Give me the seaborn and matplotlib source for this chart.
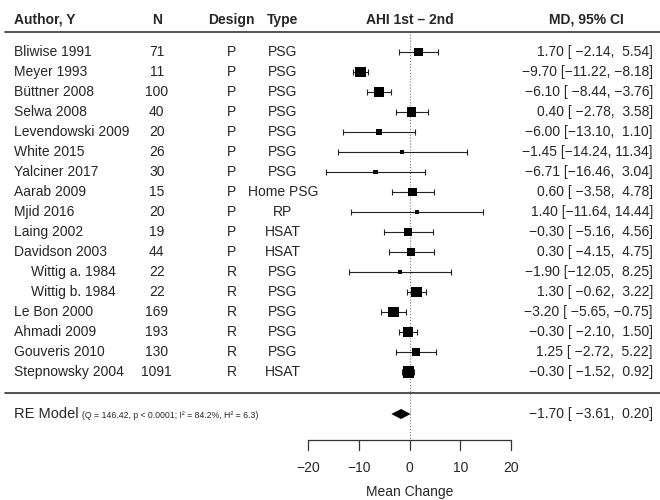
import numpy as np
import pandas as pd
import matplotlib
matplotlib.use("Agg")
import matplotlib.pyplot as plt
import seaborn as sns

# Study data (forest plot of AHI change, 1st vs 2nd night)
authors = ['Bliwise 1991', 'Meyer 1993', 'Büttner 2008', 'Selwa 2008', 'Levendowski 2009',
           'White 2015', 'Yalciner 2017', 'Aarab 2009', 'Mjid 2016', 'Laing 2002',
           'Davidson 2003', 'Wittig a. 1984', 'Wittig b. 1984', 'Le Bon 2000',
           'Ahmadi 2009', 'Gouveris 2010', 'Stepnowsky 2004']
n_subj = [71, 11, 100, 40, 20, 26, 30, 15, 20, 19, 44, 22, 22, 169, 193, 130, 1091]
design = ['P'] * 11 + ['R'] * 6
stype = ['PSG', 'PSG', 'PSG', 'PSG', 'PSG', 'PSG', 'PSG', 'Home PSG', 'RP', 'HSAT',
         'HSAT', 'PSG', 'PSG', 'PSG', 'PSG', 'PSG', 'HSAT']
md = [1.70, -9.70, -6.10, 0.40, -6.00, -1.45, -6.71, 0.60, 1.40, -0.30, 0.30,
      -1.90, 1.30, -3.20, -0.30, 1.25, -0.30]
ci_lo = [-2.14, -11.22, -8.44, -2.78, -13.10, -14.24, -16.46, -3.58, -11.64, -5.16,
         -4.15, -12.05, -0.62, -5.65, -2.10, -2.72, -1.52]
ci_hi = [5.54, -8.18, -3.76, 3.58, 1.10, 11.34, 3.04, 4.78, 14.44, 4.56, 4.75,
         8.25, 3.22, -0.75, 1.50, 5.22, 0.92]
indented = ['Wittig a. 1984', 'Wittig b. 1984']

# Random-effects summary
re_est, re_lo, re_hi = -1.70, -3.61, 0.20
re_text = '(Q = 146.42, p < 0.0001; I² = 84.2%, H² = 6.3)'
i2 = 0.842

xticks = [-20, -10, 0, 10, 20]

df = pd.DataFrame({'author': authors, 'n': n_subj, 'design': design, 'type': stype,
                   'md': md, 'lo': ci_lo, 'hi': ci_hi})
df['row'] = np.arange(1, len(df) + 1)

# RE weights -> square sizes (metafor style)
vi = ((df['hi'] - df['lo']) / 3.92) ** 2
w0 = 1 / vi
k = len(df)
s2 = (k - 1) * w0.sum() / (w0.sum() ** 2 - (w0 ** 2).sum())
tau2 = i2 / (1 - i2) * s2
w = 1 / (vi + tau2)
psize = 0.5 + (w - w.min()) / (w.max() - w.min())
df['area'] = (psize * 5.3) ** 2

sns.set_theme(style='white')
plt.rcParams['font.family'] = ['Liberation Sans', 'DejaVu Sans']

fig = plt.figure(figsize=(6.6, 5), dpi=100)
ax = fig.add_axes([0, 0, 1, 1])

fs = 10
x_author, x_n, x_design, x_type, x_ci, x_mdhead = -78.1, -49.9, -35.1, -25.0, 48.0, 34.8

# header
hy = -0.6
ax.text(x_author, hy, 'Author, Y', ha='left', va='center', fontsize=fs, fontweight='bold')
ax.text(x_n, hy, 'N', ha='center', va='center', fontsize=fs, fontweight='bold')
ax.text(x_design, hy, 'Design', ha='center', va='center', fontsize=fs, fontweight='bold')
ax.text(x_type, hy, 'Type', ha='center', va='center', fontsize=fs, fontweight='bold')
ax.text(0, hy, 'AHI 1st – 2nd', ha='center', va='center', fontsize=fs, fontweight='bold')
ax.text(x_mdhead, hy, 'MD, 95% CI', ha='center', va='center', fontsize=fs, fontweight='bold')

# separators
ax.plot([-79.9, 49.4], [0, 0], color='#333333', lw=1.2)
ax.plot([-79.9, 49.4], [18.05, 18.05], color='#333333', lw=1.2)

# reference line at 0
ax.plot([0, 0], [0.1, 20.4], color='#777777', lw=0.8, ls=':')


def fmt(v):
    return f'{v:.2f}'.replace('-', '−')


for _, r in df.iterrows():
    xa = x_author + 3.4 if r['author'] in indented else x_author
    ax.text(xa, r['row'], r['author'], ha='left', va='center', fontsize=fs)
    ax.text(x_n, r['row'], str(r['n']), ha='center', va='center', fontsize=fs)
    ax.text(x_design, r['row'], r['design'], ha='center', va='center', fontsize=fs)
    ax.text(x_type, r['row'], r['type'], ha='center', va='center', fontsize=fs)
    lab = f"{fmt(r['md'])} [{fmt(r['lo']):>6}, {fmt(r['hi']):>5}]"
    ax.text(x_ci, r['row'], lab, ha='right', va='center', fontsize=fs)

# CIs and squares
ax.errorbar(df['md'], df['row'], xerr=[df['md'] - df['lo'], df['hi'] - df['md']],
            fmt='none', ecolor='#222222', elinewidth=0.8, capsize=2.5, capthick=0.8)
sns.scatterplot(data=df, x='md', y='row', size='area',
                sizes=(df['area'].min(), df['area'].max()), marker='s',
                color='black', linewidth=0, legend=False, ax=ax, zorder=3)

# RE model diamond
ry = 19.1
ax.fill([re_lo, re_est, re_hi, re_est], [ry, ry - 0.25, ry, ry + 0.25], color='black', lw=0)
ax.text(x_author, ry, 'RE Model', ha='left', va='center', fontsize=10.5)
ax.text(x_author + 13.5, ry + 0.05, re_text, ha='left', va='center', fontsize=6.3)
ax.text(x_ci, ry, f"{fmt(re_est)} [{fmt(re_lo):>6}, {fmt(re_hi):>5}]",
        ha='right', va='center', fontsize=fs)

# bottom axis
ay = 20.4
ax.plot([xticks[0], xticks[-1]], [ay, ay], color='#333333', lw=0.9)
for t in xticks:
    ax.plot([t, t], [ay, ay + 0.5], color='#333333', lw=0.9)
    ax.text(t, 21.8, str(t).replace('-', '−'), ha='center', va='center', fontsize=fs)
ax.text(0, 23.0, 'Mean Change', ha='center', va='center', fontsize=fs)

ax.set_xlim(-80.84, 49.4)
ax.set_ylim(23.4, -1.6)
ax.axis('off')

fig.savefig('out.png', dpi=100)
